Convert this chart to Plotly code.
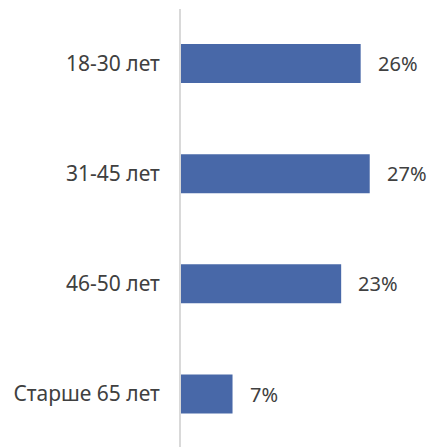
import plotly.graph_objects as go

categories = ["18-30 лет", "31-45 лет", "46-50 лет", "Старше 65 лет"]
values = [25.8, 27.1, 23.0, 7.4]
labels = ["26%", "27%", "23%", "7%"]

fig = go.Figure()
fig.add_trace(go.Bar(
    y=categories, x=values, orientation="h",
    marker=dict(color="#4868a8", line=dict(width=0)),
    hoverinfo="skip",
))
for c, v, t in zip(categories, values, labels):
    fig.add_annotation(x=v, y=c, text=t, showarrow=False, xanchor="left",
                       xshift=15, font=dict(size=20, color="#404040"))

fig.update_layout(
    width=431, height=447,
    margin=dict(l=181, r=0, t=9, b=0),
    paper_bgcolor="white", plot_bgcolor="white",
    bargap=0.646,
    showlegend=False,
    font=dict(family="Noto Sans, Open Sans, sans-serif", size=21, color="#404040"),
    xaxis=dict(range=[0, 35.9], showgrid=False, zeroline=False, showticklabels=False,
               showline=False, fixedrange=True),
    yaxis=dict(type="category", categoryorder="array", categoryarray=categories,
               range=[3.481, -0.495], showgrid=False, zeroline=False,
               showline=True, linecolor="#d9d9d9", linewidth=2,
               ticks="outside", ticklen=15, tickcolor="rgba(0,0,0,0)",
               tickfont=dict(size=21, color="#404040"), fixedrange=True),
)
fig.write_html("out.html", config={"displayModeBar": False, "staticPlot": True},
               post_script="document.body.style.margin='0';document.body.style.overflow='hidden';")
